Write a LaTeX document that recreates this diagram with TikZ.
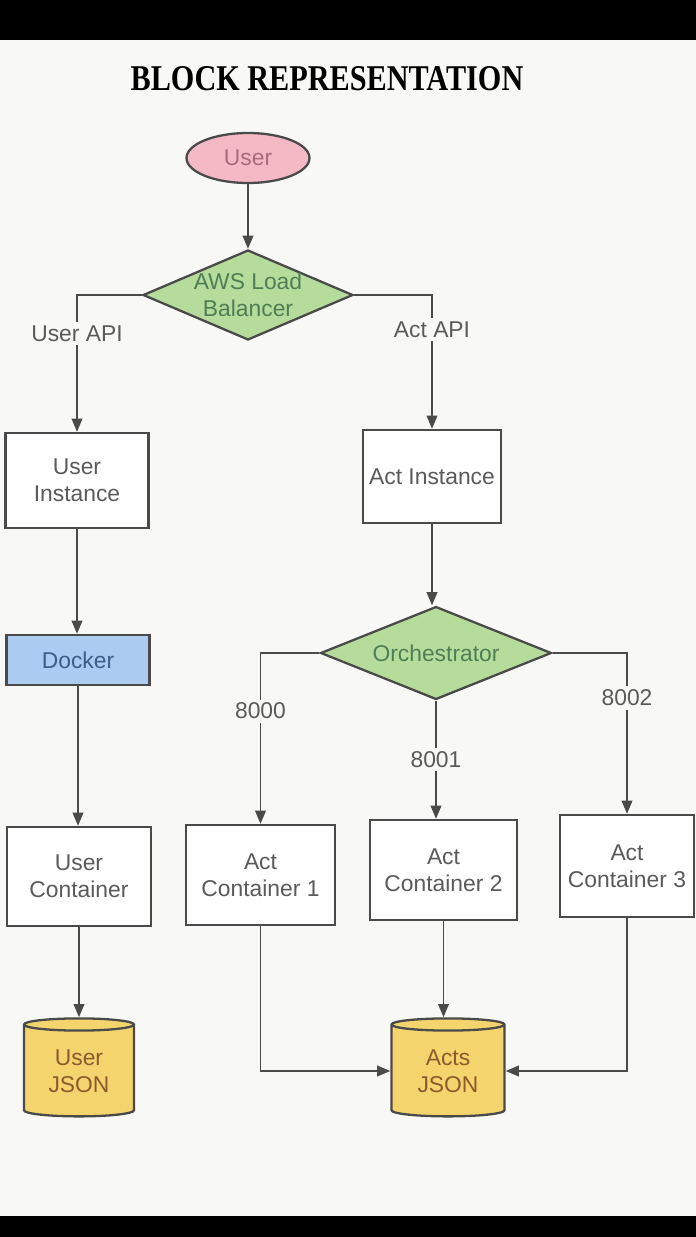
\documentclass[tikz,border=0pt]{standalone}
\usepackage{fontspec}
\setmainfont{Liberation Sans}
\newfontfamily\headfont{Liberation Serif}
\usetikzlibrary{shapes.geometric,arrows.meta}

\definecolor{linegray}{HTML}{4A4A4A}
\definecolor{textgray}{HTML}{5A5A5A}
\definecolor{paper}{HTML}{F8F8F7}
\definecolor{userpink}{HTML}{F5B9C6}
\definecolor{userpinktext}{HTML}{A86B7A}
\definecolor{lbgreen}{HTML}{B6DC9C}
\definecolor{lbgreentext}{HTML}{4F7D55}
\definecolor{dockerblue}{HTML}{ABCBF0}
\definecolor{dockerbluetext}{HTML}{3D5C86}
\definecolor{jsonyellow}{HTML}{F4D46C}
\definecolor{jsonyellowtext}{HTML}{8C5A2E}

\tikzset{
	txt/.style={font=\fontsize{13}{15.5}\selectfont, align=center, text=textgray},
	box/.style={txt, draw=linegray, line width=1.3pt, fill=white, inner sep=2pt},
	decision/.style={diamond, draw=linegray, line width=1.3pt, fill=lbgreen, inner sep=0pt},
	dectext/.style={txt, text=lbgreentext},
	store/.style={cylinder, shape border rotate=90, aspect=0.2, draw=linegray, line width=1.3pt, fill=jsonyellow, txt, text=jsonyellowtext, inner sep=0pt},
	link/.style={draw=linegray, line width=1.1pt, -{Triangle[length=7.5pt,width=6pt]}},
	port/.style={txt, fill=paper, inner sep=2pt},
}

\begin{document}
\begin{tikzpicture}[x=0.02cm, y=-0.02cm]

	% page
	\useasboundingbox (0,0) rectangle (696,1237);
	\fill [paper] (0,40) rectangle (696,1216);
	\fill [black] (0,0) rectangle (696,40);
	\fill [black] (0,1216) rectangle (696,1237);

	% title
	\node [font=\headfont\bfseries\fontsize{17.2}{20}\selectfont, yscale=1.2, transform shape] (title) at (327,79) {BLOCK REPRESENTATION};

	% user and load balancer
	\node [ellipse, draw=linegray, line width=1.3pt, fill=userpink, txt, text=userpinktext, inner sep=0pt, minimum width=2.46cm, minimum height=1cm] (user) at (248,158) {User};
	\node [decision, minimum width=4.2cm, minimum height=1.8cm, label={[dectext]center:{AWS Load\\Balancer}}] (lb) at (248,295) {};

	% user side
	\node [box, minimum width=2.86cm, minimum height=1.9cm] (ui) at (77,480.5) {User\\Instance};
	\node [box, fill=dockerblue, text=dockerbluetext, minimum width=2.86cm, minimum height=1cm] (docker) at (78,660) {Docker};
	\node [box, minimum width=2.88cm, minimum height=1.98cm] (uc) at (79,876.5) {User\\Container};
	\node [store, minimum width=2.2cm, minimum height=1.96cm] (ujson) at (79,1071) {User\\JSON};

	% act side
	\node [box, minimum width=2.76cm, minimum height=1.86cm] (ai) at (432,476.5) {Act Instance};
	\node [decision, minimum width=4.62cm, minimum height=1.86cm, label={[dectext]center:Orchestrator}] (orch) at (436,653) {};

	\node [box, minimum width=2.98cm, minimum height=2cm] (ac1) at (260.5,875) {Act\\Container 1};
	\node [box, minimum width=2.94cm, minimum height=2cm] (ac2) at (443.5,870) {Act\\Container 2};
	\node [box, minimum width=2.68cm, minimum height=2.04cm] (ac3) at (627,866) {Act\\Container 3};
	\node [store, minimum width=2.26cm, minimum height=1.96cm] (ajson) at (448,1071) {Acts\\JSON};

	% connectors
	\draw [link] (user) -- (lb);
	\draw [link] (lb.west) -| node [port, pos=0.64] (userapi) {User API} (ui);
	\draw [link] (lb.east) -| node [port, pos=0.63] (actapi) {Act API} (ai);

	\draw [link] (ui.south) -- (ui.south |- docker.north);
	\draw [link] (docker.south) -- (docker.south |- uc.north);
	\draw [link] (uc.south) -- (uc.south |- ujson.north);

	\draw [link] (ai.south) -- (ai.south |- orch.north);
	\draw [link] (orch.west) -| node [port, pos=0.67] (p8000) {8000} (ac1);
	\draw [link] (orch.south) -- node [port, pos=0.5] (p8001) {8001} (orch.south |- ac2.north);
	\draw [link] (orch.east) -| node [port, pos=0.64] (p8002) {8002} (ac3);

	\draw [link] (ac1) |- (ajson);
	\draw [link] (ac2.south) -- (ac2.south |- ajson.north);
	\draw [link] (ac3) |- (ajson);

\end{tikzpicture}
\end{document}
